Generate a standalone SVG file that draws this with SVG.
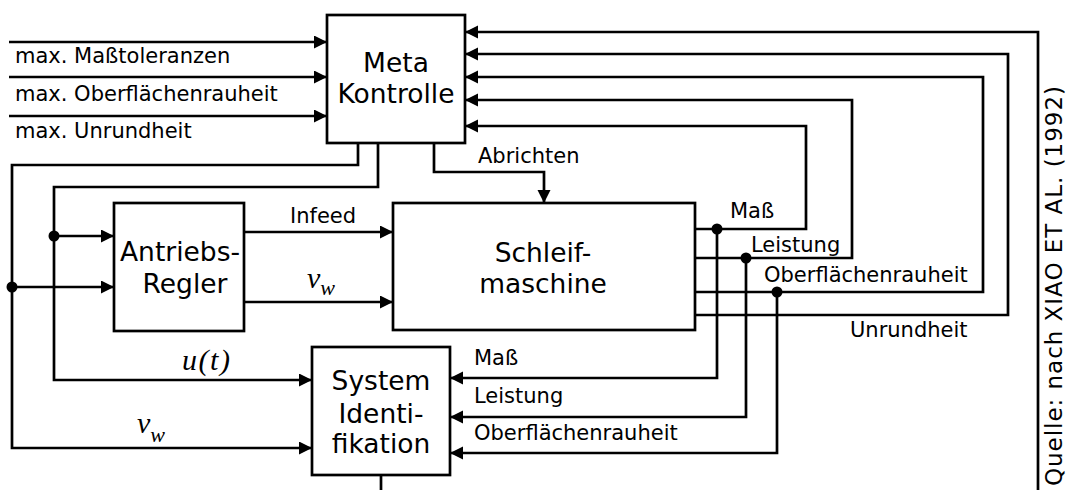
<svg xmlns="http://www.w3.org/2000/svg" width="1069" height="490" viewBox="0 0 1069 490">
<style>
.box{fill:#fff;stroke:#000;stroke-width:2.7}
.ln{fill:none;stroke:#000;stroke-width:2.7}
.arr{marker-end:url(#ah)}
.big{font-family:"DejaVu Sans",Verdana,sans-serif;font-size:26.5px;fill:#000;text-anchor:middle}
.lbl{font-family:"DejaVu Sans",Verdana,sans-serif;font-size:21px;fill:#000}
.math{font-family:"Liberation Serif","Times New Roman",serif;font-style:italic;font-size:30px;fill:#000}
.sub{font-size:22px}
.dot{fill:#000}
</style>
<defs>
<marker id="ah" markerUnits="userSpaceOnUse" markerWidth="14" markerHeight="14" refX="13" refY="6.5" orient="auto">
<path d="M0,0 L13,6.5 L0,13 z" fill="#000"/>
</marker>
</defs>
<rect width="1069" height="490" fill="#fff"/>
<g id="connectors">
<path class="ln arr" d="M9,42 H327"/>
<path class="ln arr" d="M9,77 H327"/>
<path class="ln arr" d="M9,116 H327"/>
<path class="ln arr" d="M358,143 V165 H12 V448 H312"/>
<path class="ln arr" d="M378,143 V187 H54 V380 H312"/>
<path class="ln arr" d="M434,143 V172 H544 V203"/>
<path class="ln arr" d="M12,287 H114"/>
<path class="ln arr" d="M54,236 H114"/>
<path class="ln arr" d="M244,232 H393"/>
<path class="ln arr" d="M244,302 H393"/>
<path class="ln arr" d="M695,229 H806 V126 H465"/>
<path class="ln arr" d="M695,258 H852 V100 H465"/>
<path class="ln arr" d="M695,292 H983 V77 H465"/>
<path class="ln arr" d="M695,315 H1008 V54 H465"/>
<path class="ln arr" d="M1038,490 V32 H465"/>
<path class="ln arr" d="M717,229 V378 H450"/>
<path class="ln arr" d="M746,258 V417 H450"/>
<path class="ln arr" d="M777,292 V453 H450"/>
<path class="ln" d="M381,475 V490"/>
<circle class="dot" cx="12" cy="287" r="5.5"/>
<circle class="dot" cx="54" cy="236" r="5.5"/>
<circle class="dot" cx="717" cy="229" r="5.5"/>
<circle class="dot" cx="746" cy="258" r="5.5"/>
<circle class="dot" cx="777" cy="292" r="5.5"/>
</g>
<g id="labels">
<text class="lbl" x="15" y="63">max. Maßtoleranzen</text>
<text class="lbl" x="15" y="101">max. Oberflächenrauheit</text>
<text class="lbl" x="15" y="138">max. Unrundheit</text>
<text class="lbl" x="478" y="163">Abrichten</text>
<text class="lbl" x="290" y="223">Infeed</text>
<text class="lbl" x="730" y="218">Maß</text>
<text class="lbl" x="751" y="252">Leistung</text>
<text class="lbl" x="764" y="282">Oberflächenrauheit</text>
<text class="lbl" x="850" y="337">Unrundheit</text>
<text class="lbl" x="474" y="365">Maß</text>
<text class="lbl" x="474" y="403">Leistung</text>
<text class="lbl" x="474" y="440">Oberflächenrauheit</text>
<text class="math" x="307" y="288">v<tspan class="sub" dy="7">w</tspan></text>
<text class="math" x="182" y="370" textLength="48" lengthAdjust="spacing">u(t)</text>
<text class="math" x="137" y="433">v<tspan class="sub" dy="9">w</tspan></text>
<text class="lbl" style="font-size:23px" textLength="400" lengthAdjust="spacing" transform="translate(1062,486) rotate(-90)">Quelle: nach XIAO ET AL. (1992)</text>
</g>
<g id="meta">
<rect class="box" x="327" y="15" width="138" height="128"/>
<text class="big" x="396" y="72">Meta</text>
<text class="big" x="396" y="103">Kontrolle</text>
</g>
<g id="antrieb">
<rect class="box" x="114" y="203" width="130" height="128"/>
<text class="big" x="180" y="261">Antriebs-</text>
<text class="big" x="185" y="293">Regler</text>
</g>
<g id="schleif">
<rect class="box" x="393" y="203" width="302" height="127"/>
<text class="big" x="543" y="262">Schleif-</text>
<text class="big" x="543" y="293">maschine</text>
</g>
<g id="sysid">
<rect class="box" x="312" y="347" width="138" height="128"/>
<text class="big" x="381" y="390">System</text>
<text class="big" x="381" y="423">Identi-</text>
<text class="big" x="381" y="453">fikation</text>
</g>
</svg>
